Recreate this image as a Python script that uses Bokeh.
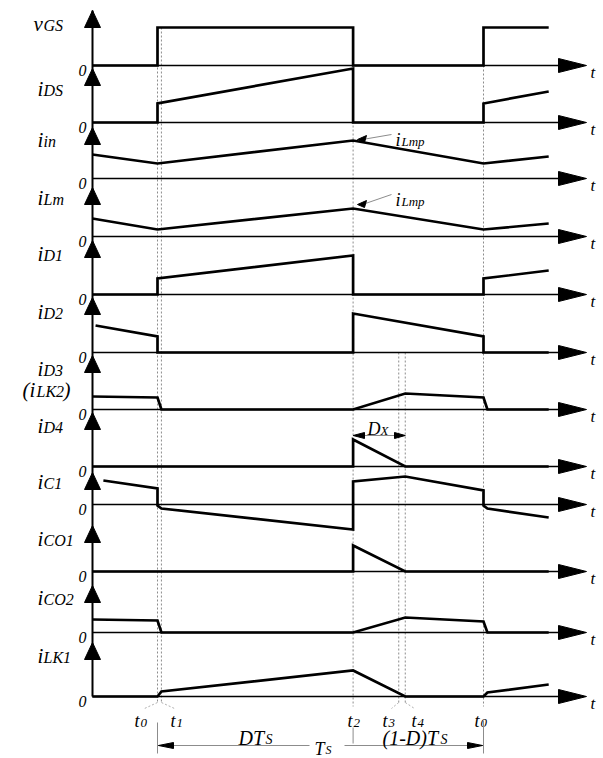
from bokeh.plotting import figure
from bokeh.models import Range1d
from bokeh.core.properties import value
from bokeh.embed import file_html
from bokeh.resources import INLINE

# Switching instants, normalised to one switching period Ts
T0, T1, T2, T3, T4, TS = 0.0, 0.012, 0.6, 0.74, 0.76, 1.0
T_BEGIN, T_END = -0.2, 1.2

# Waveform vertices: instants and levels (arbitrary units, 0 = panel zero line)
vgs_t = [T_BEGIN, T0, T0, T2, T2, TS, TS, T_END]
vgs_v = [0, 0, 38, 38, 0, 0, 38, 38]
ids_t = [T_BEGIN, T0, T0, T2, T2, TS, TS, T_END]
ids_v = [0, 0, 19, 54, 0, 0, 19, 31]
iin_t = [T_BEGIN, T0, T2, TS, T_END]
iin_v = [24, 15, 38, 15, 22]
ilm_t = [T_BEGIN, T0, T2, TS, T_END]
ilm_v = [18, 7, 28, 7, 13]
id1_t = [T_BEGIN, T0, T0, T2, T2, TS, TS, T_END]
id1_v = [0, 0, 16, 39, 0, 0, 16, 24]
id2_t = [-0.19, T0, T0, T2, T2, TS, TS, T_END]
id2_v = [27, 16, 0, 0, 39, 16, 0, 0]
id3_t = [T_BEGIN, T0, T1, T2, T4, TS, TS + T1, T_END]
id3_v = [13, 12, 0, 0, 16, 12, 0, 0]
id4_t = [T_BEGIN, T2, T2, T4, T_END]
id4_v = [0, 0, 27, 0, 0]
ic1_t = [-0.166, T0, T0, T1, T2, T2, T4, TS, TS, TS + T1, T_END]
ic1_v = [24, 16, -1, -4, -25, 23, 28, 14, -1, -4, -13]
ico1_t = [T_BEGIN, T2, T2, T4, T_END]
ico1_v = [0, 0, 26, 0, 0]
ico2_t = [T_BEGIN, T0, T1, T2, T4, TS, TS + T1, T_END]
ico2_v = [13, 12, 0, 0, 15, 11, 0, 0]
ilk1_t = [T_BEGIN, T0, T1, T2, T4, TS, TS + T1, T_END]
ilk1_v = [0, 0, 5, 26, 0, 0, 4, 12]

# Trace names: (main letter, subscript)
names = [("v", "GS"), ("i", "DS"), ("i", "in"), ("i", "Lm"), ("i", "D1"), ("i", "D2"),
         ("i", "D3"), ("i", "D4"), ("i", "C1"), ("i", "CO1"), ("i", "CO2"), ("i", "LK1")]
traces = [(vgs_t, vgs_v), (ids_t, ids_v), (iin_t, iin_v), (ilm_t, ilm_v),
          (id1_t, id1_v), (id2_t, id2_v), (id3_t, id3_v), (id4_t, id4_v),
          (ic1_t, ic1_v), (ico1_t, ico1_v), (ico2_t, ico2_v), (ilk1_t, ilk1_v)]

# ---- layout (page pixels) ----
W, H = 603, 758
X_ORIGIN, PX_PER_TS = 157, 326
zero_px = [65, 122, 178, 236, 294, 352, 409, 466, 504, 571, 632, 696]
tip_px = [10, 68, 127, 187, 240, 297, 355, 412, 472, 525, 585, 642]
label_base_px = [23, 88, 139, 197, 253, 311, 368, 425, 481, 538, 597, 655]
AXIS_X, AXIS_END, HEAD_END = 92, 560, 586


def X(px):
    return (px - X_ORIGIN) / PX_PER_TS


def Y(py):
    return -py


p = figure(width=W, height=H, x_range=Range1d(X(0), X(W)), y_range=Range1d(-H, 0),
           output_backend="svg", toolbar_location=None, x_axis_type=None,
           y_axis_type=None, min_border=0)
p.outline_line_color = None
p.xgrid.visible = False
p.ygrid.visible = False
p.background_fill_color = "white"
p.border_fill_color = "white"

SERIF = value("Liberation Serif")
GRAY = "#8c8c8c"

# dotted guides at the switching instants
guides = [(T0, 27, 702), (T1, 27, 702), (T2, 65, 706), (T3, 352, 702),
          (T4, 352, 702), (TS, 65, 706)]
p.segment(x0=[g[0] for g in guides], y0=[Y(g[1]) for g in guides],
          x1=[g[0] for g in guides], y1=[Y(g[2]) for g in guides],
          line_color=GRAY, line_width=1, line_dash="2 2")

# zero lines with arrow heads
p.segment(x0=[X(AXIS_X)] * len(zero_px), y0=[Y(z) for z in zero_px],
          x1=[X(AXIS_END)] * len(zero_px), y1=[Y(z) for z in zero_px],
          line_color="black", line_width=1.3)
p.patches(xs=[[X(AXIS_END - 2), X(HEAD_END), X(AXIS_END - 2)] for z in zero_px],
          ys=[[Y(z - 7), Y(z), Y(z + 7)] for z in zero_px],
          fill_color="black", line_color="black")

# common vertical axis with one arrow head per trace
p.segment(x0=[X(AXIS_X)], y0=[Y(tip_px[0])], x1=[X(AXIS_X)], y1=[Y(zero_px[-1])],
          line_color="black", line_width=2)
p.patches(xs=[[X(AXIS_X - 8), X(AXIS_X), X(AXIS_X + 8)] for t in tip_px],
          ys=[[Y(t + 17), Y(t), Y(t + 17)] for t in tip_px],
          fill_color="black", line_color="black")

# waveforms
for (tt, vv), z in zip(traces, zero_px):
    p.line(tt, [Y(z) + v for v in vv], line_color="black", line_width=2.7,
           line_join="miter")

# trace names and "0" marks
for (m, s), b in zip(names, label_base_px):
    p.text([X(33 if m == "v" else 37)], [Y(b)], text=[m], text_font=SERIF,
           text_font_style="italic", text_font_size="21px", text_baseline="alphabetic")
    p.text([X(43)], [Y(b + 2)], text=[s], text_font=SERIF, text_font_style="italic",
           text_font_size="16px", text_baseline="alphabetic")
p.text([X(22)], [Y(389)], text=["(i"], text_font=SERIF, text_font_style="italic",
       text_font_size="21px", text_baseline="alphabetic")
p.text([X(36)], [Y(391)], text=["LK2"], text_font=SERIF, text_font_style="italic",
       text_font_size="16px", text_baseline="alphabetic")
p.text([X(63)], [Y(389)], text=[")"], text_font=SERIF, text_font_style="italic",
       text_font_size="21px", text_baseline="alphabetic")
p.text([X(82)] * len(zero_px), [Y(z + 5) for z in zero_px], text=["0"] * len(zero_px),
       text_font=SERIF, text_font_style="italic", text_font_size="16px",
       text_align="center", text_baseline="alphabetic")
p.text([X(590)] * len(zero_px), [Y(z + 7) for z in zero_px], text=["t"] * len(zero_px),
       text_font=SERIF, text_font_style="italic", text_font_size="17px",
       text_baseline="alphabetic")

# peak-current callouts
for ty, tip in [(139, 139), (199, 204)]:
    p.segment(x0=[X(391)], y0=[Y(ty - 5)], x1=[X(362)], y1=[Y(tip)],
              line_color=GRAY, line_width=1)
    p.patches(xs=[[X(357), X(366), X(364)]], ys=[[Y(tip), Y(tip - 4), Y(tip + 3)]],
              fill_color="black", line_color="black")
    p.text([X(395)], [Y(ty)], text=["i"], text_font=SERIF, text_font_style="italic",
           text_font_size="18px", text_baseline="alphabetic")
    p.text([X(401)], [Y(ty + 2)], text=["Lmp"], text_font=SERIF,
           text_font_style="italic", text_font_size="13px", text_baseline="alphabetic")

# D_X interval between t2 and t4
p.segment(x0=[T2], y0=[Y(435)], x1=[T4], y1=[Y(435)], line_color=GRAY, line_width=1)
p.patches(xs=[[T2, X(364), X(364)], [T4, X(394), X(394)]],
          ys=[[Y(435), Y(432), Y(438)], [Y(435), Y(432), Y(438)]],
          fill_color="black", line_color="black")
p.text([X(367)], [Y(428)], text=["D"], text_font=SERIF, text_font_style="italic",
       text_font_size="18px", text_baseline="alphabetic")
p.text([X(380)], [Y(430)], text=["X"], text_font=SERIF, text_font_style="italic",
       text_font_size="13px", text_baseline="alphabetic")

# instant names under the last trace
tlabels = [("0", 134, 720), ("1", 170, 720), ("2", 347, 720), ("3", 382, 720),
           ("4", 411, 720), ("0", 474, 720)]
for s, xp, yp in tlabels:
    p.text([X(xp)], [Y(yp)], text=["t"], text_font=SERIF, text_font_style="italic",
           text_font_size="18px", text_baseline="alphabetic")
    p.text([X(xp + 6)], [Y(yp + 2)], text=[s], text_font=SERIF,
           text_font_style="italic", text_font_size="13px", text_baseline="alphabetic")
leaders = [(T0, 144), (T1, 174), (T3, 391), (T4, 414)]
p.segment(x0=[l[0] for l in leaders], y0=[Y(702)] * 4, x1=[X(l[1]) for l in leaders],
          y1=[Y(708)] * 4, line_color="#b0b0b0", line_width=1, line_dash="2 2")

# period brackets
p.segment(x0=[T0, T2, TS], y0=[Y(722), Y(727), Y(720)], x1=[T0, T2, TS],
          y1=[Y(753), Y(743), Y(753)], line_color=GRAY, line_width=1)
p.segment(x0=[T0, X(344)], y0=[Y(745)] * 2, x1=[X(309), TS], y1=[Y(745)] * 2,
          line_color=GRAY, line_width=1)
p.patches(xs=[[T0 + 0.003, X(173), X(173)], [TS - 0.003, X(467), X(467)]],
          ys=[[Y(745), Y(742), Y(748)], [Y(745), Y(742), Y(748)]],
          fill_color="black", line_color="black")
p.text([X(238)], [Y(737)], text=["DT"], text_font=SERIF, text_font_style="italic",
       text_font_size="20px", text_baseline="alphabetic")
p.text([X(265)], [Y(739)], text=["S"], text_font=SERIF, text_font_style="italic",
       text_font_size="14px", text_baseline="alphabetic")
p.text([X(382)], [Y(737)], text=["(1-D)T"], text_font=SERIF, text_font_style="italic",
       text_font_size="20px", text_baseline="alphabetic")
p.text([X(440)], [Y(739)], text=["S"], text_font=SERIF, text_font_style="italic",
       text_font_size="14px", text_baseline="alphabetic")
p.text([X(314)], [Y(748)], text=["T"], text_font=SERIF, text_font_style="italic",
       text_font_size="18px", text_baseline="alphabetic")
p.text([X(325)], [Y(749)], text=["S"], text_font=SERIF, text_font_style="italic",
       text_font_size="12px", text_baseline="alphabetic")

open("out.html", "w").write(file_html(p, INLINE))
